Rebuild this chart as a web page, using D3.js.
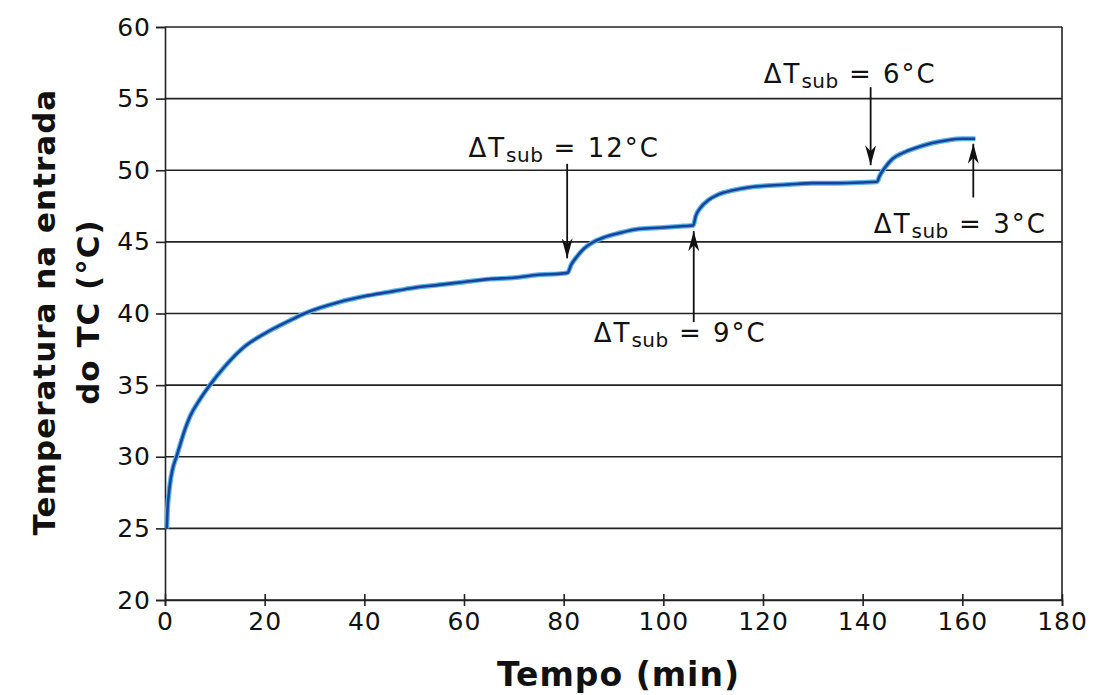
<!DOCTYPE html>
<html>
<head>
<meta charset="utf-8">
<style>
  body { margin: 0; background: #fff; }
  text { font-family: "DejaVu Sans", Verdana, sans-serif; }
</style>
</head>
<body>
<svg width="1098" height="695"></svg>
<script src="https://d3js.org/d3.v7.min.js"></script>
<script>

// curve: time (min) and temperature (°C)
var tempo = [0.35, 0.5, 0.8, 1, 1.5, 2.3, 3, 4, 5, 7, 9, 12, 16, 20, 25, 28, 35, 40, 45, 50, 55, 60, 65, 70, 75, 80, 80.8,
             81.5, 82.5, 84, 86, 88, 91, 95, 100, 104, 106,
             106.5, 107.5, 109, 111, 114, 117, 120, 125, 130, 135, 140, 142.9,
             143.4, 144.5, 146, 148, 151, 154, 157, 160, 162.6];
var temperatura = [25.0, 26.3, 27.5, 28.1, 29.1, 30.0, 30.8, 31.9, 32.8, 34.0, 35.0, 36.3, 37.7, 38.6, 39.5, 40.0, 40.8, 41.2, 41.5, 41.8, 42.0, 42.2, 42.4, 42.5, 42.7, 42.8, 42.85,
                   43.4, 43.9, 44.5, 45.0, 45.3, 45.6, 45.9, 46.0, 46.1, 46.15,
                   46.8, 47.4, 47.9, 48.3, 48.6, 48.8, 48.9, 49.0, 49.1, 49.1, 49.15, 49.2,
                   49.6, 50.2, 50.8, 51.2, 51.6, 51.9, 52.1, 52.2, 52.2];

var xTicks = [0, 20, 40, 60, 80, 100, 120, 140, 160, 180];
var yTicks = [20, 25, 30, 35, 40, 45, 50, 55, 60];

// annotations: where the arrow is, where it starts/ends, where the label sits
var notaLabel = ["12", "9", "6", "3"];
var notaTempo = [80.7, 106.1, 141.6, 162.2];
var notaPonta = [43.85, 45.75, 50.35, 51.85];
var notaCauda = [50.45, 39.4, 55.8, 48.1];
var notaTextoX = [80.1, 103.4, 137.5, 159.6];
var notaTextoY = [50.9, 38.0, 56.1, 45.6];

var svg = d3.select("svg"),
    margin = {top: 27, right: 36, bottom: 95, left: 165},
    width = +svg.attr("width") - margin.left - margin.right,
    height = +svg.attr("height") - margin.top - margin.bottom,
    g = svg.append("g").attr("transform", "translate(" + margin.left + "," + margin.top + ")");

var x = d3.scaleLinear().domain([0, 180]).range([0, width]);
var y = d3.scaleLinear().domain([20, 60]).range([height, 0]);

svg.append("defs").append("marker")
    .attr("id", "seta")
    .attr("viewBox", "0 0 20 11")
    .attr("preserveAspectRatio", "none")
    .attr("refX", 20).attr("refY", 5.5)
    .attr("markerWidth", 20).attr("markerHeight", 11)
    .attr("markerUnits", "userSpaceOnUse")
    .attr("orient", "auto")
  .append("path")
    .attr("d", "M0,0 L20,5.5 L0,11 L6,5.5 Z")
    .attr("fill", "#111");

// horizontal grid
g.selectAll(".grade").data(yTicks).enter().append("line")
    .attr("x1", 0).attr("x2", width)
    .attr("y1", function(d) { return y(d); })
    .attr("y2", function(d) { return y(d); })
    .attr("stroke", "#222").attr("stroke-width", 1.6);

// right border
g.append("line")
    .attr("x1", width).attr("x2", width).attr("y1", 0).attr("y2", height)
    .attr("stroke", "#222").attr("stroke-width", 1.6);

// y axis
var yAxis = g.append("g")
    .call(d3.axisLeft(y).tickValues(yTicks).tickSize(9).tickPadding(5));
yAxis.select(".domain").attr("stroke", "#222").attr("stroke-width", 1.6);
yAxis.selectAll(".tick line").attr("stroke", "#222").attr("stroke-width", 1.6);
yAxis.selectAll(".tick text")
    .attr("font-family", "DejaVu Sans, sans-serif")
    .attr("font-size", 25).attr("fill", "#111").attr("letter-spacing", 1);

// x axis, ticks crossing the line
var xAxis = g.append("g")
    .attr("transform", "translate(0," + height + ")")
    .call(d3.axisBottom(x).tickValues(xTicks).tickSize(6).tickPadding(6));
xAxis.select(".domain").attr("stroke", "#222").attr("stroke-width", 1.6);
xAxis.selectAll(".tick line").attr("y1", -6).attr("stroke", "#222").attr("stroke-width", 1.6);
xAxis.selectAll(".tick text")
    .attr("font-family", "DejaVu Sans, sans-serif")
    .attr("font-size", 25).attr("fill", "#111").attr("letter-spacing", 1);

// axis titles
svg.append("text")
    .attr("x", margin.left + x(91)).attr("y", 686)
    .attr("text-anchor", "middle")
    .attr("font-size", 33).attr("font-weight", "bold").attr("fill", "#111")
    .attr("letter-spacing", 1)
    .text("Tempo (min)");

var yTitle = svg.append("text")
    .attr("transform", "translate(0," + (margin.top + y(40.1)) + ") rotate(-90)")
    .attr("text-anchor", "middle")
    .attr("font-size", 31).attr("font-weight", "bold").attr("fill", "#111")
    .attr("letter-spacing", 1);
yTitle.append("tspan").attr("x", 0).attr("y", 55).text("Temperatura na entrada");
yTitle.append("tspan").attr("x", 0).attr("y", 99).text("do TC (°C)");

// the curve
var linha = d3.line()
    .x(function(d, i) { return x(tempo[i]); })
    .y(function(d) { return y(d); })
    .curve(d3.curveMonotoneX);

g.append("path")
    .datum(temperatura)
    .attr("fill", "none")
    .attr("stroke", "#58b4ea")
    .attr("stroke-width", 5)
    .attr("stroke-linejoin", "round")
    .attr("d", linha);

g.append("path")
    .datum(temperatura)
    .attr("fill", "none")
    .attr("stroke", "#17449a")
    .attr("stroke-width", 2.6)
    .attr("stroke-linejoin", "round")
    .attr("d", linha);

// arrows and labels
notaLabel.forEach(function(lab, i) {
  g.append("line")
      .attr("x1", x(notaTempo[i])).attr("x2", x(notaTempo[i]))
      .attr("y1", y(notaCauda[i])).attr("y2", y(notaPonta[i]))
      .attr("stroke", "#111").attr("stroke-width", 1.8)
      .attr("marker-end", "url(#seta)");

  var t = g.append("text")
      .attr("x", x(notaTextoX[i])).attr("y", y(notaTextoY[i]))
      .attr("text-anchor", "middle")
      .attr("font-size", 26).attr("fill", "#111")
      .attr("letter-spacing", 2);
  t.append("tspan").text("\u0394T");
  t.append("tspan").attr("font-size", 20).attr("dy", 5).attr("letter-spacing", 0.5).text("sub");
  t.append("tspan").attr("dy", -5).text(" = " + lab + "\u00b0C");
});

</script>
</body>
</html>
